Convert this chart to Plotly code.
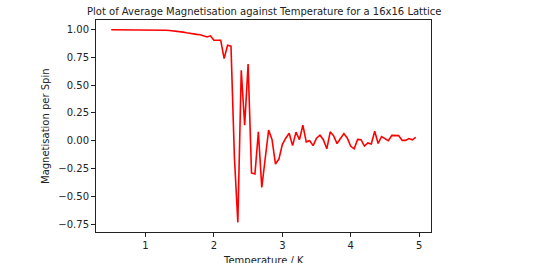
import numpy as np
import plotly.graph_objects as go

temperature = np.round(np.arange(0.5, 4.951, 0.05), 2)
magnetisation = [
    1.0, 1.0, 1.0, 1.0, 1.0, 1.0, 1.0, 1.0, 1.0, 0.999,
    0.999, 0.999, 0.998, 0.998, 0.997, 0.996, 0.995, 0.993, 0.99, 0.99,
    0.985, 0.978, 0.972, 0.966, 0.962, 0.958, 0.955, 0.945, 0.935, 0.945,
    0.905, 0.905, 0.905, 0.74, 0.86, 0.852, -0.15, -0.735, 0.635, 0.14,
    0.69, -0.29, -0.30, 0.08, -0.42, -0.16, 0.096, 0.01, -0.21, -0.165,
    -0.035, 0.023, 0.067, -0.044, 0.078, 0.009, 0.14, -0.01, 0.0, -0.044,
    0.023, 0.05, 0.009, -0.073, 0.08, 0.044, -0.026, 0.02, 0.065, 0.023,
    -0.05, -0.073, 0.012, 0.009, -0.048, -0.02, -0.03, 0.085, -0.025, 0.038,
    0.02, 0.0, 0.048, 0.048, 0.046, 0.003, 0.003, 0.02, 0.008, 0.03,
]
assert len(magnetisation) == len(temperature)

x_ticks = [1, 2, 3, 4, 5]
y_ticks = [-0.75, -0.5, -0.25, 0.0, 0.25, 0.5, 0.75, 1.0]

title_text = "Plot of Average Magnetisation against Temperature for a 16x16 Lattice"
x_label = "Temperature / K"
y_label = "Magnetisation per Spin"

font = "DejaVu Sans, Arial, sans-serif"

fig = go.Figure()
fig.add_trace(go.Scatter(
    x=temperature, y=magnetisation, mode="lines",
    line=dict(color="#ff0000", width=1.6),
    hoverinfo="skip",
))

axis_common = dict(
    showgrid=False, zeroline=False, showline=True, mirror=True,
    linecolor="#222222", linewidth=1, ticks="outside", ticklen=4,
    tickcolor="#222222", tickwidth=1,
    tickfont=dict(family=font, size=10, color="#222222"),
)

fig.update_layout(
    width=537, height=263,
    margin=dict(l=96, r=106, t=20, b=25),
    paper_bgcolor="white", plot_bgcolor="white",
    showlegend=False,
    xaxis=dict(range=[0.2775, 5.1725], tickvals=x_ticks, **axis_common),
    yaxis=dict(range=[-0.822, 1.0875], tickvals=y_ticks, tickformat=".2f", **axis_common),
    annotations=[
        dict(text=title_text, xref="paper", yref="paper", x=0.5, y=1,
             yshift=9, xanchor="center", yanchor="middle", showarrow=False,
             font=dict(family=font, size=10, color="#222222")),
        dict(text=x_label, xref="paper", yref="paper", x=0.5, y=0,
             yshift=-21, xanchor="center", yanchor="top", showarrow=False,
             font=dict(family=font, size=10, color="#222222")),
        dict(text=y_label, xref="paper", yref="paper", x=0, y=0.5,
             xshift=-51, xanchor="center", yanchor="middle", textangle=-90,
             showarrow=False, font=dict(family=font, size=10, color="#222222")),
    ],
)

fig.write_html("out.html")
